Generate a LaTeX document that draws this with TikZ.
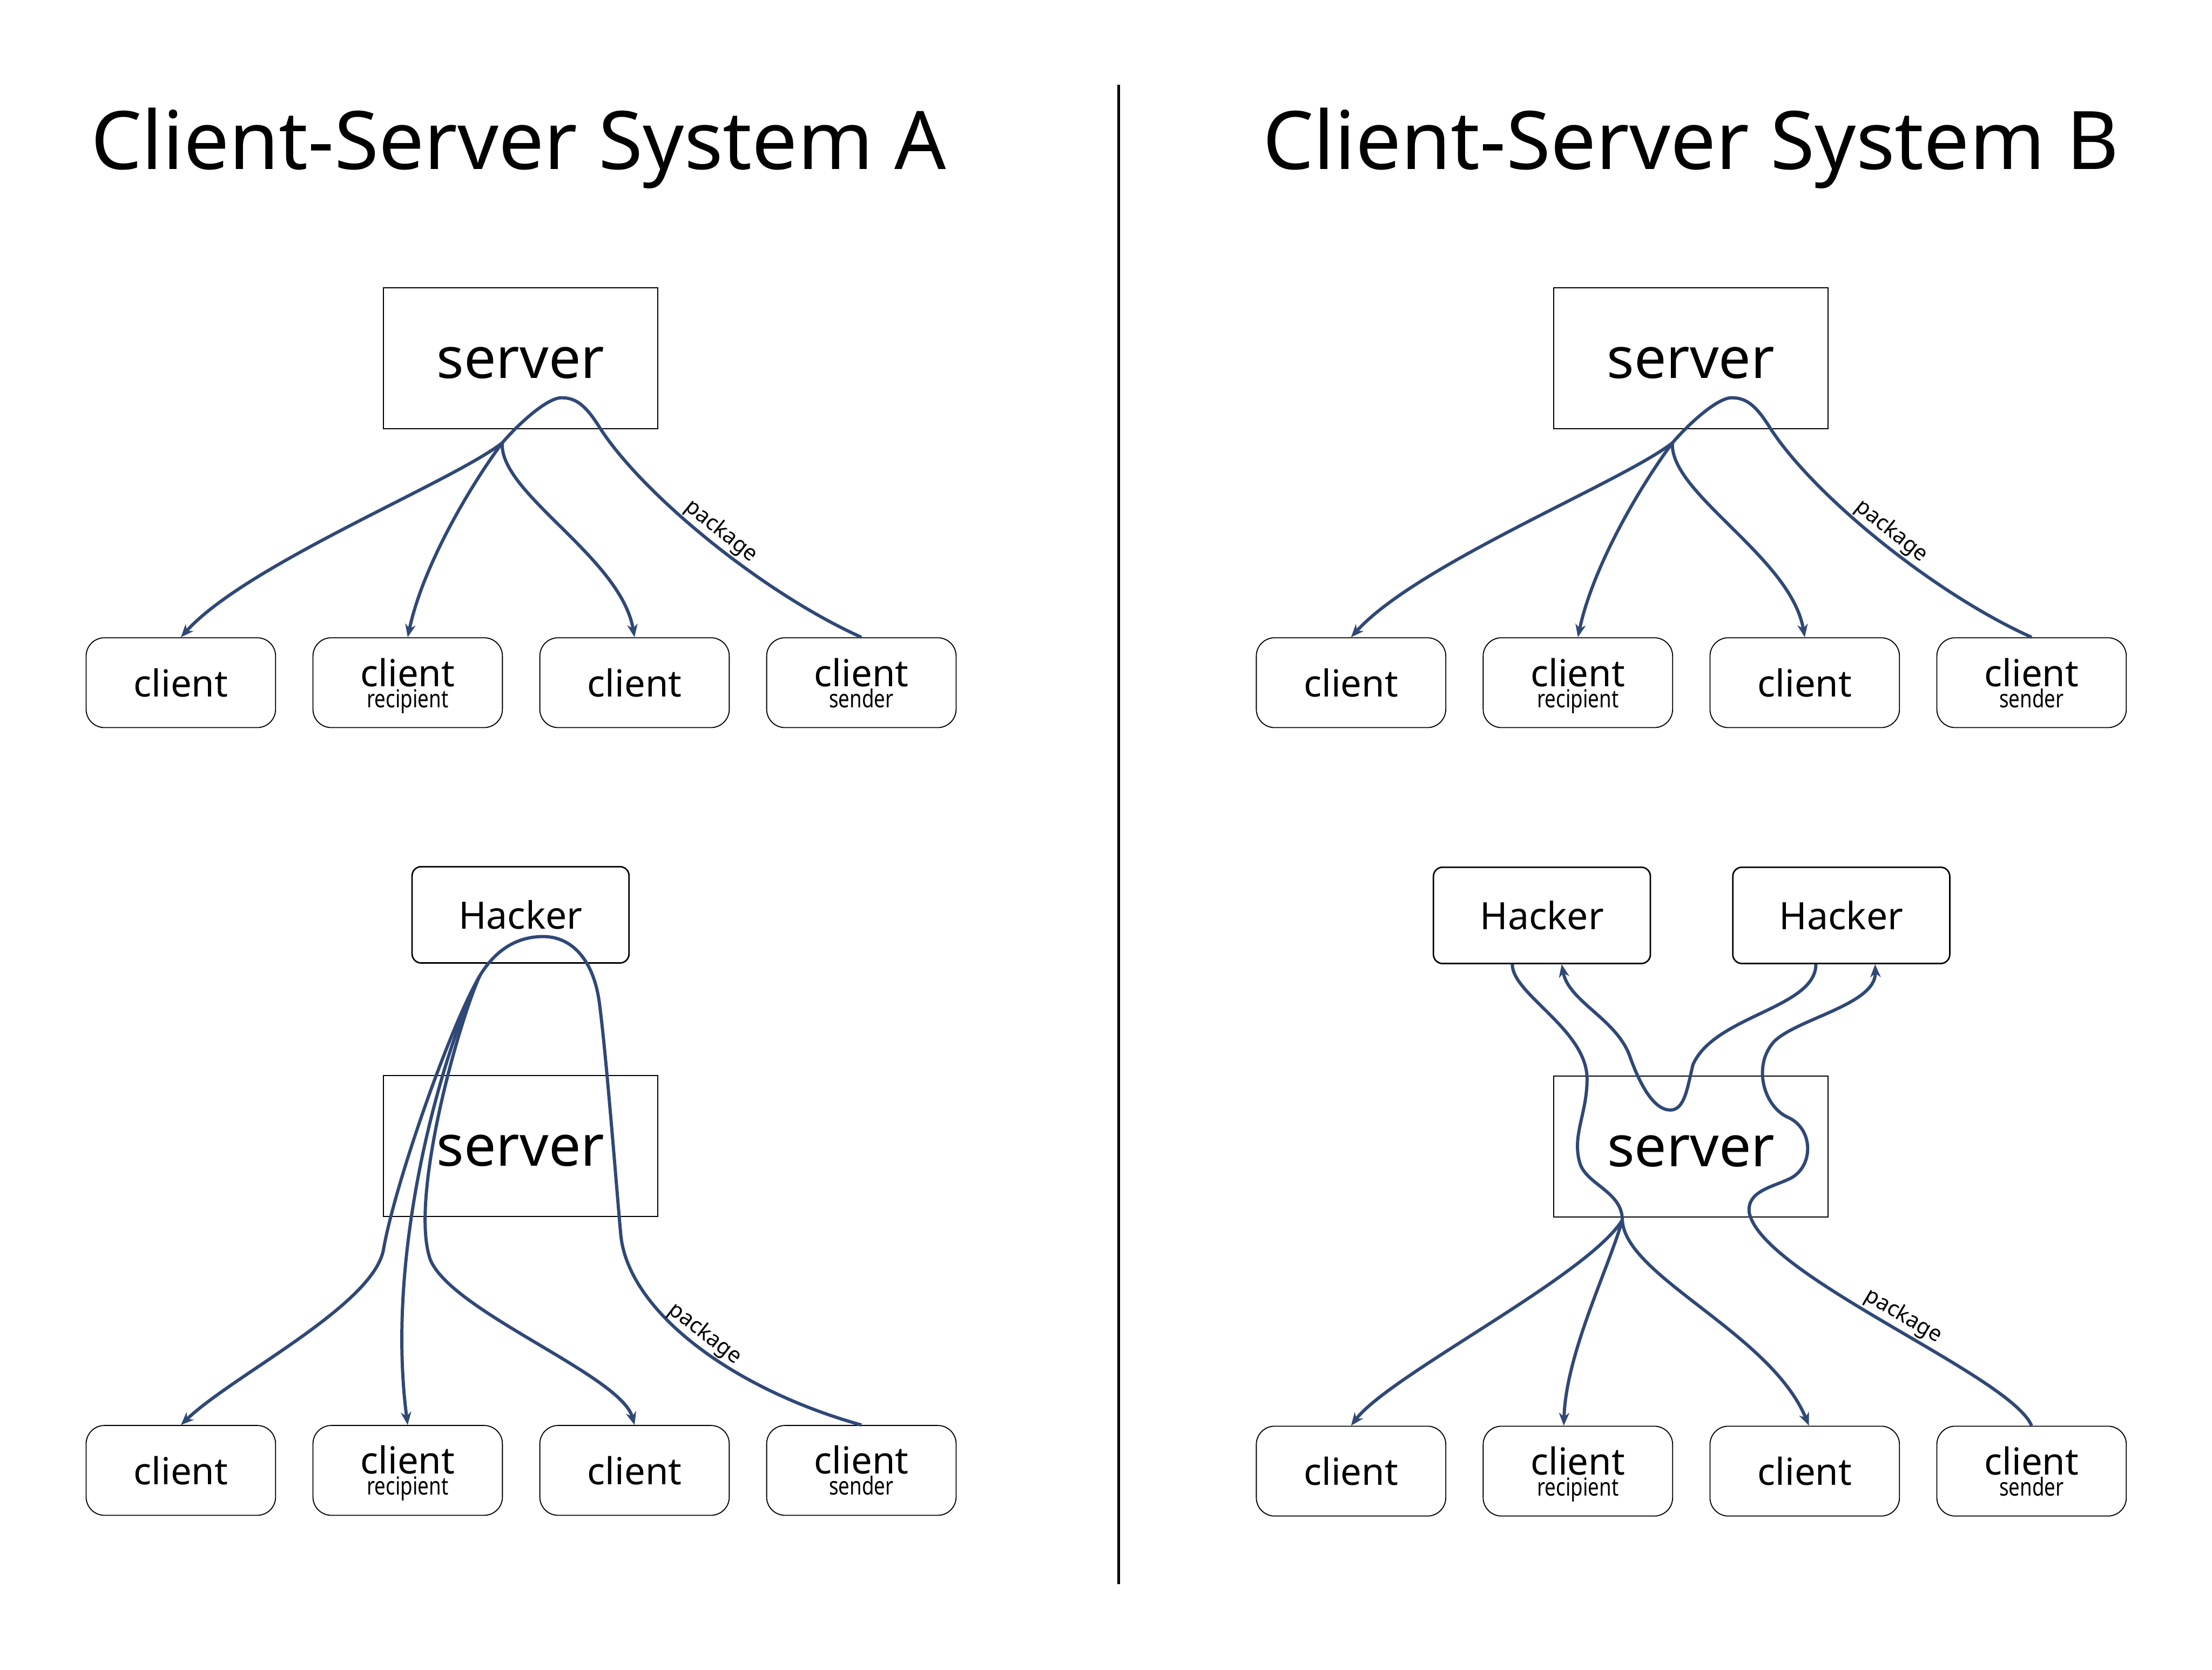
\documentclass[tikz,border=0pt]{standalone}
\usepackage{fontspec}
\setmainfont{Noto Sans}
\newfontfamily\narrowsans[FakeStretch=0.8]{Noto Sans}
\usetikzlibrary{arrows.meta}
\definecolor{linkblue}{RGB}{47,72,118}
\newcommand{\role}[1]{\\{\narrowsans\fontsize{5}{4.25}\selectfont #1}}
\newcommand{\clifont}{\fontsize{7.5}{4.25}\selectfont\lineskiplimit=-5pt\relax}
\tikzset{
	ttl/.style={font=\fontsize{16.3}{20}\selectfont, inner sep=0pt},
	srvbox/.style={draw, line width=0.2pt, minimum width=19.45mm, minimum height=10mm, inner sep=0pt, text height=8pt, text depth=0pt, font=\fontsize{11.5}{13}\selectfont},
	clibox/.style={draw, line width=0.2pt, rounded corners=1.3mm, minimum width=13.43mm, minimum height=6.37mm, inner sep=0pt, align=center, font=\clifont},
	twoline/.style={text height=9.95pt, text depth=0pt},
	hkbox/.style={draw, line width=0.3pt, rounded corners=0.65mm, minimum width=15.38mm, minimum height=6.83mm, inner sep=0pt, font=\fontsize{7.6}{9}\selectfont},
	link/.style={draw=linkblue, line width=0.65pt},
	tolink/.style={link, -{Stealth[length=2.6pt,width=2.1pt,inset=0.8pt]}},
	pkg/.style={sloped, above, inner sep=0.4pt, font=\fontsize{4.4}{5}\selectfont},
}
\begin{document}
\begin{tikzpicture}[x=0.1mm, y=-0.1mm]
	\useasboundingbox (0,0) rectangle (1568,1184);
	% coordinates are pixels of the page, y running down
	\node[ttl, anchor=base] (ttlA) at (367.5,120) {Client-Server System A};
	\node[ttl, anchor=base] (ttlB) at (1198.5,120) {Client-Server System B};
	\draw[line width=0.6pt] (793,60) -- (793,1123);

	% system A, normal delivery
	\node[srvbox] (srvAt) at (369,254) {server};
	\node[clibox] (cAt1) at (128.2,484) {client};
	\node[clibox, twoline] (cAt2) at (289,484) {client\role{recipient}};
	\node[clibox] (cAt3) at (449.8,484) {client};
	\node[clibox, twoline] (cAt4) at (610.6,484) {client\role{sender}};
	\coordinate (brAt) at (356,314);
	\draw[link] (cAt4.north) .. controls (540,420) and (455,350) .. node[pkg, pos=0.49] {package} (425,303)
		.. controls (415,287) and (408,282) .. (398,282) .. controls (388,282) and (368,300) .. (brAt);
	\draw[tolink] (brAt) .. controls (320,342) and (175,400) .. (cAt1.north);
	\draw[tolink] (brAt) .. controls (335,342) and (300,400) .. (cAt2.north);
	\draw[tolink] (brAt) .. controls (354,350) and (440,395) .. (cAt3.north);

	% system B, normal delivery (same layout, shifted right)
	\begin{scope}[shift={(829.5,0)}]
		\node[srvbox] (srvBt) at (369,254) {server};
		\node[clibox] (cBt1) at (128.2,484) {client};
		\node[clibox, twoline] (cBt2) at (289,484) {client\role{recipient}};
		\node[clibox] (cBt3) at (449.8,484) {client};
		\node[clibox, twoline] (cBt4) at (610.6,484) {client\role{sender}};
		\coordinate (brBt) at (356,314);
		\draw[link] (cBt4.north) .. controls (540,420) and (455,350) .. node[pkg, pos=0.49] {package} (425,303)
			.. controls (415,287) and (408,282) .. (398,282) .. controls (388,282) and (368,300) .. (brBt);
		\draw[tolink] (brBt) .. controls (320,342) and (175,400) .. (cBt1.north);
		\draw[tolink] (brBt) .. controls (335,342) and (300,400) .. (cBt2.north);
		\draw[tolink] (brBt) .. controls (354,350) and (440,395) .. (cBt3.north);
	\end{scope}

	% system A with the hacker on top of the server
	\node[hkbox] (hkA) at (369,648.6) {Hacker};
	\node[srvbox] (srvAb) at (369,812.5) {server};
	\node[clibox] (cAb1) at (128.2,1042.5) {client};
	\node[clibox, twoline] (cAb2) at (289,1042.5) {client\role{recipient}};
	\node[clibox] (cAb3) at (449.8,1042.5) {client};
	\node[clibox, twoline] (cAb4) at (610.6,1042.5) {client\role{sender}};
	\coordinate (brAb) at (340,692);
	\draw[link] (cAb4.north) .. controls (520,985) and (445,930) .. node[pkg, pos=0.5] {package} (440,875)
		.. controls (437.5,848) and (430,750) .. (425,712) .. controls (421,680) and (405,664) .. (385,664)
		.. controls (368,664) and (352,672) .. (brAb);
	\draw[tolink] (brAb) .. controls (318,730) and (280,840) .. (272,885) .. controls (266,925) and (165,975) .. (cAb1.north);
	\draw[tolink] (brAb) .. controls (318,735) and (272,880) .. (cAb2.north);
	\draw[tolink] (brAb) .. controls (325,725) and (290,850) .. (305,893) .. controls (320,930) and (440,975) .. (cAb3.north);

	% system B with two hackers
	\node[hkbox] (hkB1) at (1093,649) {Hacker};
	\node[hkbox] (hkB2) at (1305.2,649) {Hacker};
	\node[srvbox] (srvBb) at (1198.7,813) {server};
	\node[clibox] (cBb1) at (957.7,1043) {client};
	\node[clibox, twoline] (cBb2) at (1118.5,1043) {client\role{recipient}};
	\node[clibox] (cBb3) at (1279.3,1043) {client};
	\node[clibox, twoline] (cBb4) at (1440.1,1043) {client\role{sender}};
	\coordinate (brBb) at (1150,865);
	\draw[tolink] (cBb4.north) .. controls (1425,975) and (1250,905) .. node[pkg, pos=0.48] {package} (1240,860)
		.. controls (1238,845) and (1255,842) .. (1268,836) .. controls (1286,828) and (1286,800) .. (1267,792)
		.. controls (1250,784) and (1242,755) .. (1258,738) .. controls (1275,722) and (1330,712) .. ([xshift=2.4mm]hkB2.south);
	\draw[tolink] ([xshift=-1.8mm]hkB2.south) .. controls (1287,715) and (1215,720) .. (1200,755)
		.. controls (1196,772) and (1194,787) .. (1184,787) .. controls (1172,787) and (1162,768) .. (1155,748)
		.. controls (1145,722) and (1112,710) .. ([xshift=1.4mm]hkB1.south);
	\draw[link] ([xshift=-2.1mm]hkB1.south) .. controls (1072,705) and (1125,730) .. (1125,765)
		.. controls (1125,790) and (1114,805) .. (1120,825) .. controls (1125,840) and (1150,845) .. (brBb);
	\draw[tolink] (brBb) .. controls (1125,905) and (985,975) .. (cBb1.north);
	\draw[tolink] (brBb) .. controls (1140,900) and (1110,960) .. ([xshift=-1mm]cBb2.north);
	\draw[tolink] (brBb) .. controls (1152,905) and (1255,945) .. ([xshift=0.3mm]cBb3.north);
\end{tikzpicture}
\end{document}
